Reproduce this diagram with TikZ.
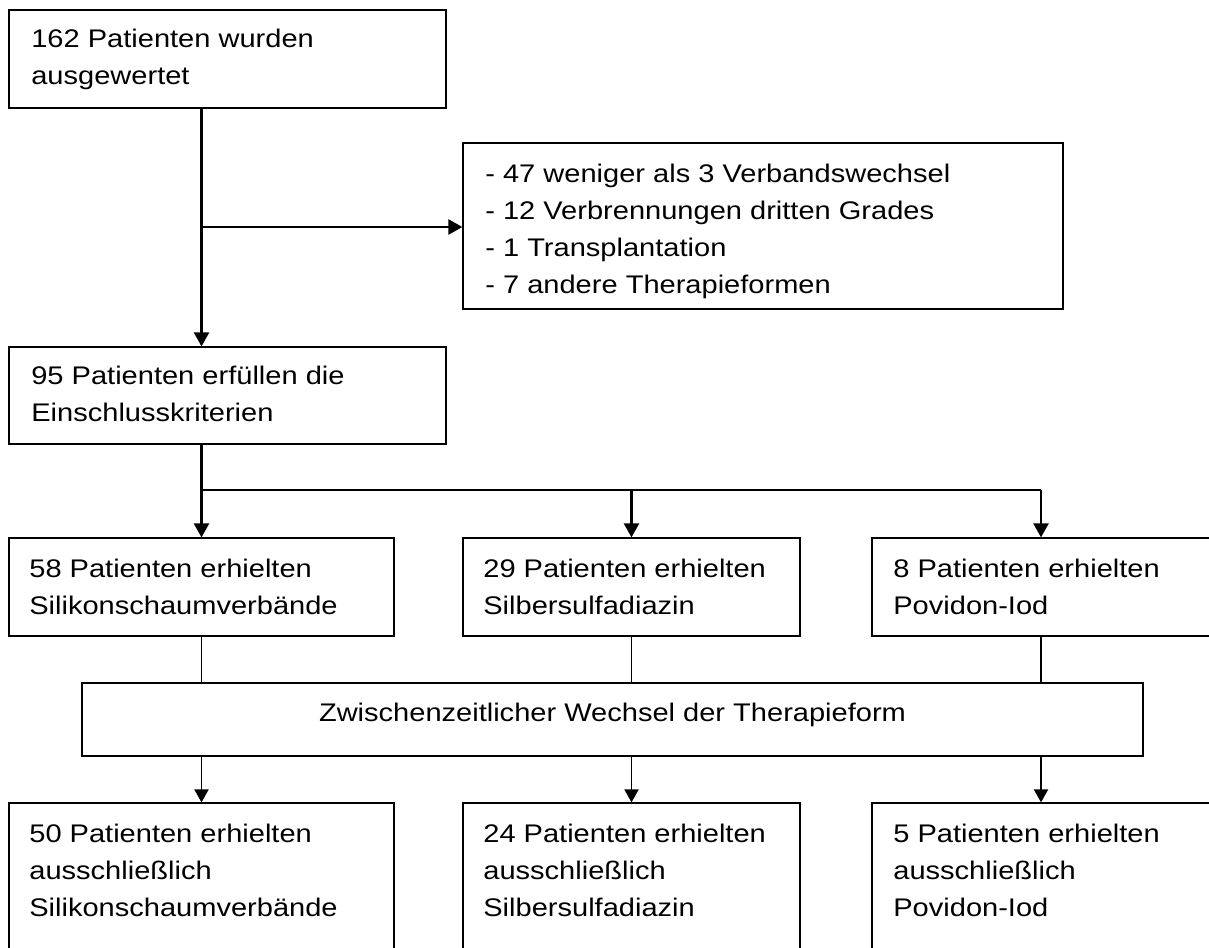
\documentclass[tikz,border=0pt]{standalone}
\usepackage{fontspec}
\setmainfont{Liberation Sans}[FakeStretch=1.14]
\usetikzlibrary{arrows.meta,fit,calc}

\begin{document}
\begin{tikzpicture}[
  x=0.02cm, y=-0.02cm,
  box/.style={draw, line width=0.7pt, inner sep=0pt},
  txt/.style={anchor=base west, inner sep=0pt, align=left,
    font=\fontsize{14.5}{21}\selectfont},
  flow/.style={line width=1.4pt},
  arr/.style={-{Triangle[length=2.8mm, width=3.0mm]}, line width=1.4pt},
  arrlow/.style={-{Triangle[length=2.6mm, width=2.8mm]}, line width=1.1pt},
  link/.style={line width=0.6pt}
]
  \useasboundingbox (0,0) rectangle (1209,947);
  \clip (0,0) rectangle (1209,947);

  % --- screening (text nodes sit on the baseline of their last line) ----
  \node[box, fit={(9,10) (446,108)}] (ausw) {};
  \node[txt] (tausw) at (31,84) {162 Patienten wurden\\ausgewertet};

  \node[box, fit={(463,143) (1063,309)}] (aussch) {};
  \node[txt] (taussch) at (485,293)
    {- 47 weniger als 3 Verbandswechsel\\- 12 Verbrennungen dritten Grades\\- 1 Transplantation\\- 7 andere Therapieformen};

  \node[box, fit={(9,347) (446,444)}] (einschl) {};
  \node[txt] (teinschl) at (31,421) {95 Patienten erfüllen die\\Einschlusskriterien};

  % --- initial therapy ---------------------------------------------------
  \node[box, fit={(9,538) (394,636)}] (silA) {};
  \node[txt] (tsilA) at (29,614) {58 Patienten erhielten\\Silikonschaumverbände};
  \node[box, fit={(463,538) (800,636)}] (sulfA) {};
  \node[txt] (tsulfA) at (483,614) {29 Patienten erhielten\\Silbersulfadiazin};
  \node[box, fit={(872,538) (1210,636)}] (povA) {};
  \node[txt] (tpovA) at (893,614) {8 Patienten erhielten\\Povidon-Iod};

  \node[box, fit={(82,683) (1143,756)}] (wechsel) {};
  \node[txt, anchor=base] (twechsel) at (612.5,721) {Zwischenzeitlicher Wechsel der Therapieform};

  % --- exclusive therapy -------------------------------------------------
  \node[box, fit={(9,803) (394,970)}] (silB) {};
  \node[txt] (tsilB) at (29,916) {50 Patienten erhielten\\ausschließlich\\Silikonschaumverbände};
  \node[box, fit={(463,803) (800,970)}] (sulfB) {};
  \node[txt] (tsulfB) at (483,916) {24 Patienten erhielten\\ausschließlich\\Silbersulfadiazin};
  \node[box, fit={(872,803) (1210,970)}] (povB) {};
  \node[txt] (tpovB) at (893,916) {5 Patienten erhielten\\ausschließlich\\Povidon-Iod};

  % --- connectors --------------------------------------------------------
  \coordinate (j1) at (201.5,227);
  \draw[flow] (ausw.south -| j1) -- (j1);
  \draw[arr] (j1) -- (j1 -| aussch.west);
  \draw[arr] (j1) -- (einschl.north -| j1);

  \coordinate (j2) at (201.5,490);
  \draw[flow] (einschl.south -| j2) -- (j2);
  \draw[link] (j2) -- (j2 -| povA.north);
  \draw[arr] (j2) -- (silA.north);
  \draw[arr] (j2 -| sulfA.north) -- (sulfA.north);
  \draw[arr] (j2 -| povA.north) -- (povA.north);

  \draw[link] (silA.south) -- (silA.south |- wechsel.north);
  \draw[link] (sulfA.south) -- (sulfA.south |- wechsel.north);
  \draw[link] (povA.south) -- (povA.south |- wechsel.north);

  \draw[arrlow] (wechsel.south -| silB.north) -- (silB.north);
  \draw[arrlow] (wechsel.south -| sulfB.north) -- (sulfB.north);
  \draw[arrlow] (wechsel.south -| povB.north) -- (povB.north);
\end{tikzpicture}
\end{document}
